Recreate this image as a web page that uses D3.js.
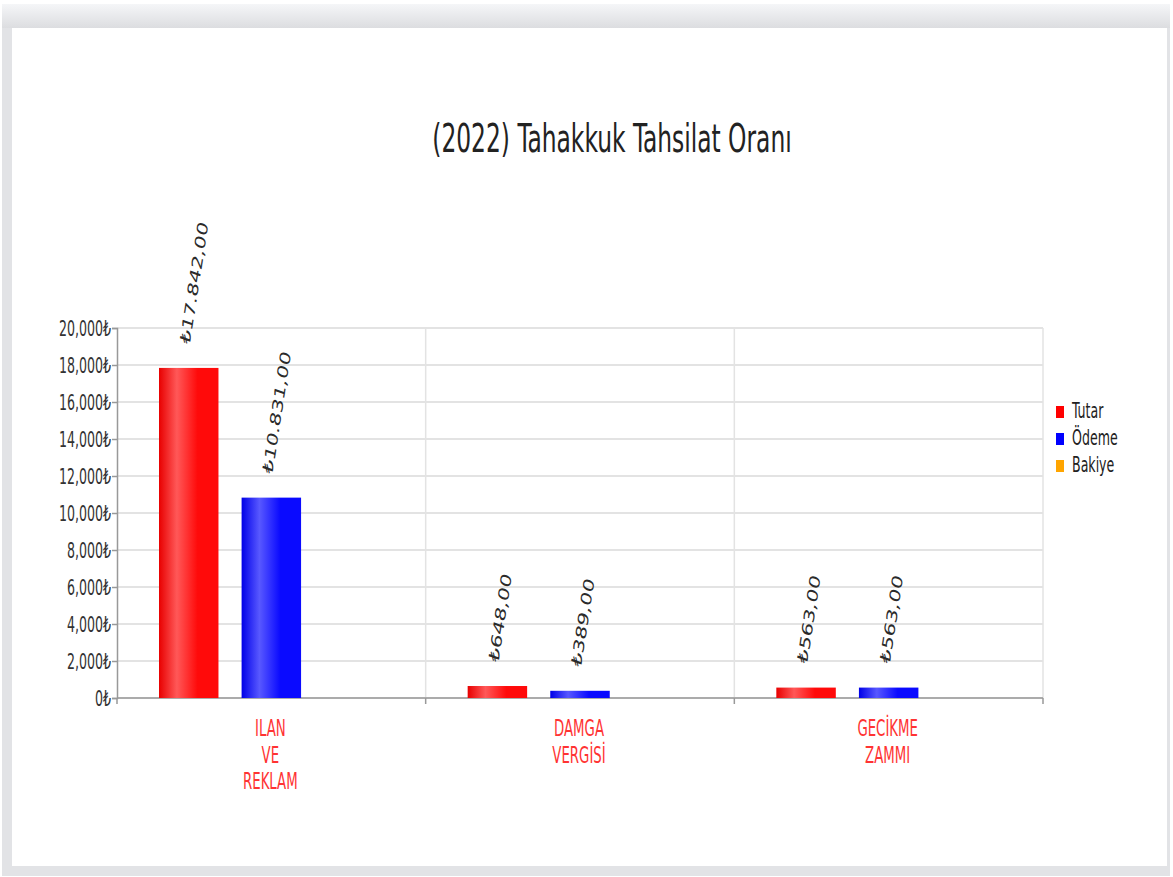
<!DOCTYPE html>
<html>
<head>
<meta charset="utf-8">
<script src="https://cdn.jsdelivr.net/npm/d3@7"></script>
<style>
body { margin: 0; background: #fff; }
svg text { font-family: "DejaVu Sans Condensed", "DejaVu Sans", sans-serif; font-stretch: condensed; }
</style>
</head>
<body>
<svg width="1173" height="877"></svg>
<script>
var categories = ["ILAN VE REKLAM", "DAMGA VERGİSİ", "GECİKME ZAMMI"];
var seriesNames = ["Tutar", "Ödeme", "Bakiye"];
var seriesColors = ["#ff0000", "#0000ff", "#ffa500"];
var tutar = [17842, 648, 563];
var odeme = [10831, 389, 563];
var bakiye = [null, null, null];
var yTicks = [0, 2000, 4000, 6000, 8000, 10000, 12000, 14000, 16000, 18000, 20000];

var SY = 1.5; // vertical stretch of the text, like the picture
var svg = d3.select("svg");
var plotL = 117, plotR = 1043, plotT = 328, plotB = 698;

// frame
var defs = svg.append("defs");
var fg = defs.append("linearGradient").attr("id", "frameTop").attr("x1", 0).attr("y1", 0).attr("x2", 0).attr("y2", 1);
fg.append("stop").attr("offset", "0%").attr("stop-color", "#f5f6f8");
fg.append("stop").attr("offset", "100%").attr("stop-color", "#dcdde0");
svg.append("rect").attr("x", 2).attr("y", 4).attr("width", 1168).attr("height", 872).attr("fill", "#e2e3e6");
svg.append("rect").attr("x", 2).attr("y", 4).attr("width", 1168).attr("height", 24).attr("fill", "url(#frameTop)");
svg.append("rect").attr("x", 12).attr("y", 28).attr("width", 1155).attr("height", 838).attr("fill", "#fff");

function barGrad(id, dark, light, mid) {
  var g = defs.append("linearGradient").attr("id", id).attr("x1", 0).attr("y1", 0).attr("x2", 1).attr("y2", 0);
  g.append("stop").attr("offset", "0%").attr("stop-color", dark);
  g.append("stop").attr("offset", "30%").attr("stop-color", light);
  g.append("stop").attr("offset", "65%").attr("stop-color", mid);
  g.append("stop").attr("offset", "100%").attr("stop-color", mid);
}
barGrad("g0", "#e80000", "#ff5858", "#ff0a0a");
barGrad("g1", "#0000e8", "#5858ff", "#0a0aff");
barGrad("g2", "#e89400", "#ffc050", "#ffa500");

var x0 = d3.scaleBand().domain(categories).range([plotL, plotR]).padding(0);
var x1 = d3.scaleBand().domain(seriesNames).range([42, x0.bandwidth() - 42]).paddingInner(0.28).paddingOuter(0);
var y = d3.scaleLinear().domain([0, 20000]).range([plotB, plotT]);

// grid
svg.append("g").selectAll("line").data(yTicks).enter().append("line")
  .attr("x1", plotL).attr("x2", plotR)
  .attr("y1", function(d) { return y(d); }).attr("y2", function(d) { return y(d); })
  .attr("stroke", "#e3e3e3").attr("stroke-width", 2);
svg.append("g").selectAll("line").data(categories).enter().append("line")
  .attr("x1", function(d) { return x0(d) + x0.bandwidth(); }).attr("x2", function(d) { return x0(d) + x0.bandwidth(); })
  .attr("y1", plotT).attr("y2", plotB)
  .attr("stroke", "#e3e3e3").attr("stroke-width", 1.5);

// axes
var yAxis = svg.append("g").attr("transform", "translate(" + plotL + ",0)")
  .call(d3.axisLeft(y).tickValues(yTicks).tickSize(5).tickFormat(function(d) { return d3.format(",")(d) + "₺"; }));
yAxis.select(".domain").attr("stroke", "#999").attr("stroke-width", 1.5);
yAxis.selectAll(".tick line").attr("stroke", "#999").attr("stroke-width", 1.5);
yAxis.selectAll(".tick text")
  .attr("x", null)
  .attr("transform", "translate(-6,0) scale(1," + SY + ")")
  .attr("dy", "0.36em")
  .attr("font-size", 14).attr("fill", "#333");

var xAxis = svg.append("g").attr("transform", "translate(0," + plotB + ")");
xAxis.append("line").attr("x1", plotL).attr("x2", plotR).attr("stroke", "#999").attr("stroke-width", 1.5);
xAxis.selectAll(".tk").data([plotL].concat(categories.map(function(c) { return x0(c) + x0.bandwidth(); })))
  .enter().append("line").attr("x1", function(d) { return d; }).attr("x2", function(d) { return d; })
  .attr("y1", 0).attr("y2", 6).attr("stroke", "#999").attr("stroke-width", 1.5);

// category labels
categories.forEach(function(c) {
  var t = svg.append("text")
    .attr("transform", "translate(" + (x0(c) + x0.bandwidth() / 2 - 1) + ",736) scale(1," + SY + ")")
    .attr("text-anchor", "middle").attr("font-size", 14.8).attr("fill", "#ff3333");
  c.split(" ").forEach(function(w, i) {
    t.append("tspan").attr("x", 0).attr("y", i * 17.7).text(w);
  });
});

// bars
var trLocale = d3.formatLocale({ decimal: ",", thousands: ".", grouping: [3], currency: ["₺", ""] });
var money = trLocale.format("$,.2f");
var seriesValues = [tutar, odeme, bakiye];
seriesValues.forEach(function(vals, si) {
  var name = seriesNames[si];
  var g = svg.append("g");
  var data = categories.map(function(c, i) { return { c: c, v: vals[i] }; })
    .filter(function(d) { return d.v != null; });
  g.selectAll("rect").data(data).enter().append("rect")
    .attr("x", function(d) { return x0(d.c) + x1(name); })
    .attr("width", x1.bandwidth())
    .attr("y", function(d) { return y(d.v); })
    .attr("height", function(d) { return plotB - y(d.v); })
    .attr("fill", "url(#g" + si + ")");
  g.selectAll("text").data(data).enter().append("text")
    .attr("transform", function(d) {
      return "translate(" + (x0(d.c) + x1(name) + x1.bandwidth() / 2 + 1) + "," + (y(d.v) - 23) + ") scale(1," + SY + ") rotate(-77)";
    })
    .style("font-family", "'DejaVu Sans', sans-serif").style("font-stretch", "normal")
    .attr("font-size", 14.5).attr("fill", "#2a2a2a")
    .text(function(d) { return money(d.v); });
});

// title
svg.append("text")
  .attr("transform", "translate(612,152) scale(1," + SY + ")")
  .attr("text-anchor", "middle").attr("font-size", 26).attr("fill", "#222")
  .text("(2022) Tahakkuk Tahsilat Oranı");

// legend
var lg = svg.append("g").attr("transform", "translate(1056,406)");
seriesNames.forEach(function(n, i) {
  lg.append("rect").attr("x", 0).attr("y", i * 27).attr("width", 8).attr("height", 12).attr("fill", seriesColors[i]);
  lg.append("text").attr("transform", "translate(16," + (i * 27 + 12) + ") scale(1," + SY + ")")
    .attr("font-size", 14).attr("fill", "#222").text(n);
});
</script>
</body>
</html>
